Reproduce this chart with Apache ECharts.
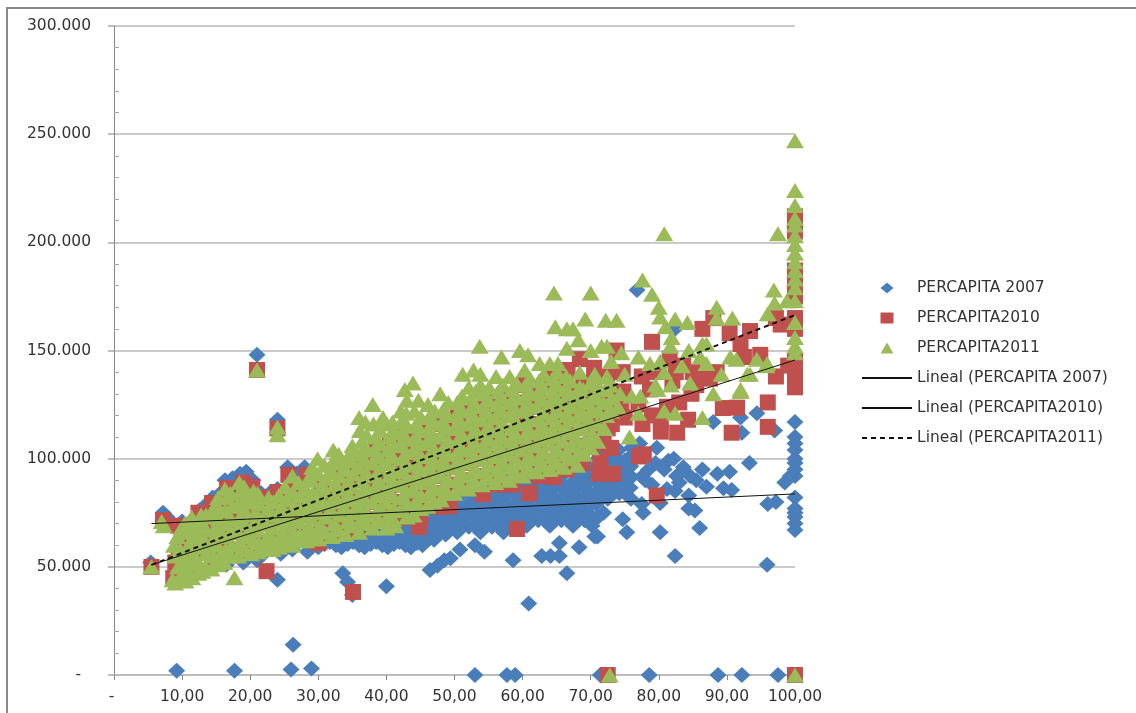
<!DOCTYPE html>
<html><head><meta charset="utf-8">
<script src="https://cdn.jsdelivr.net/npm/echarts@6/dist/echarts.min.js"></script>
<style>
html,body{margin:0;padding:0;background:#fff;overflow:hidden}
#c{width:1136px;height:713px;position:absolute;left:0;top:0;filter:blur(0.4px)}
#frame{position:absolute;left:6px;top:7px;width:1130px;height:706px;border-left:2px solid #8a8a8a;border-top:2px solid #8a8a8a;box-sizing:border-box;pointer-events:none}
</style></head><body>
<div id="c"></div><div id="frame"></div>
<script>
// y values in thousands of PERCAPITA, x in percent
const tickX = [10,20,30,40,50,60,70,80,90,100];
const percapita2007 = [
[5.4,52],[7.2,75],[7.8,73],[10,71],[9.4,53],[10.3,58],[12.5,76],[11.6,72],[14.5,82],[13.6,79],[16.3,90],[15.6,84],[18.5,93],[17.4,91],[19.4,94],[20.4,90],[21.6,84],[23,84.5],[24,86],[21,148],[24,118],[24,112],[25.5,96],[28,96],[26.8,93],[29.2,92],
[24,44],[26.3,14],[26,2.5],[29,3],[9.2,2],[17.7,2],[33.6,47],[34.3,43],[35,37],[40,41],[46.4,48.5],[47.5,50.5],[48.5,53],[50.8,58],[49.4,54],[53,60],[54.4,57],[58.6,53],[60.9,33],[62.8,55],[64.1,55],[65.4,55],[66.5,47],[68.3,59],[65.4,61],[70.6,64],[71,64],[75.3,66],[80.2,66],[82.4,55],[95.9,51],
[53,0],[57.7,0],[58.9,0],[71.4,0],[78.6,0],[88.7,0],[92.2,0],[97.5,0],[100,0],[76.8,178],[82.4,160],
[22,56],[24.5,56],[26.2,58],[28.4,57],[21,53],[19,52],[16.5,51],
[30,59],[30.2,64],[30,69],[31.7,61.5],[31.6,66.5],[33.4,59],[33.5,64],[33.3,69],[35.1,61.5],[35,66.5],[35.2,71.5],[36.8,59],[36.7,64],[36.9,69],[38.5,61.5],[38.4,66.5],[38.6,71.5],[40.2,59],[40.1,64],[40.3,69],[40.2,74],
[41.9,61.5],[41.8,66.5],[42,71.5],[43.6,59],[43.5,64],[43.7,69],[43.6,74],[45.3,60],[45.2,65],[45.4,70],[45.3,75],[47,62.5],[46.9,67.5],[47.1,72.5],[47,77.5],[48.7,65],[48.6,70],[48.8,75],[48.7,80],[48.8,85],
[50.4,66],[50.3,71],[50.5,76],[50.4,81],[50.3,86],[52.1,68.5],[52,73.5],[52.2,78.5],[52.1,83.5],[52,88],[53.8,66],[53.7,71],[53.9,76],[53.8,81],[53.7,86],[53.9,90],[55.5,68.5],[55.4,73.5],[55.6,78.5],[55.5,83.5],[55.4,88.5],
[57.2,66],[57.1,71],[57.3,76],[57.2,81],[57.1,86],[57.3,91],[58.9,68.5],[58.8,73.5],[59,78.5],[58.9,83.5],[58.8,88.5],[58.9,93],[60.6,69],[60.5,74],[60.7,79],[60.6,84],[60.5,89],[60.7,94],
[62.3,71.5],[62.2,76.5],[62.4,81.5],[62.3,86.5],[62.2,91.5],[62.4,96],[64,69],[63.9,74],[64.1,79],[64,84],[63.9,89],[64.1,94],[65.7,71.5],[65.6,76.5],[65.8,81.5],[65.7,86.5],[65.6,91.5],[65.8,96.5],
[67.4,69],[67.3,74],[67.5,79],[67.4,84],[67.3,89],[67.5,94],[67.4,99],[69.1,71.5],[69,76.5],[69.2,81.5],[69.1,86.5],[69,91.5],[69.2,96.5],[70.8,79],[70.7,84],[70.9,89],[70.8,94],[70.7,99],[70.9,103],
[72.5,81.5],[72.4,86.5],[72.6,91.5],[72.5,96.5],[72.4,101],[74.2,84],[74.1,89],[74.3,94],[74.2,99],[74.1,104],[75.9,81.5],[75.8,86.5],[76,91.5],[75.9,96.5],[75.8,101],[76,105],
[77.2,107],[79.7,105],[82.2,100],[81.4,99],[83.6,96],[86.4,95],[88.6,93],[90.4,94],[93.3,98],[78.5,95],[80.8,95],[82.6,92],[84.6,92],[85.5,90],[87,87],[89.5,86.3],[90.7,85.5],[81.2,86],[82.4,85],[84.4,83],[80.2,79.5],[77.5,79],[77.7,75],[84.4,77],[85.3,76],[86,68],[74.7,72],[71.9,75],[71.1,73],[70.2,69],[78,90],[79,88],[83,89],[79.5,98],[77.6,92],
[88,117],[92,119],[94.4,121],[97,113],[92.2,112],[98.5,89],[99.3,92],[96,79],[97.2,80],
[100,117],[100,110],[100,107],[100,104],[100,100],[100,98],[100,95],[100,92],[100,82],[100,77],[100,75],[100,73],[100,70],[100,67],
[30.9,60.5],[30.8,65],[32.6,60],[32.5,65],[32.4,70],[34.3,60.5],[34.2,65],[34.1,70],[36,60],[36,65],[35.9,70],[37.7,60.5],[37.6,65],[37.5,70],[39.4,60],[39.3,65],[39.2,70],[41.1,60.5],[41,65],[40.9,70],[42.8,60],[42.7,65],[42.6,70],[44.5,61],[44.4,66],[44.3,71],[46.2,63],[46.1,68],[46,73],[47.9,66],[47.8,71],[47.7,76],[49.6,68],[49.5,73],[49.4,78],
[51.3,69],[51.2,74],[51.1,79],[51,84],[53,69],[52.9,74],[52.8,79],[52.7,84],[54.7,69],[54.6,74],[54.5,79],[54.4,84],[56.4,69],[56.3,74],[56.2,79],[56.1,84],[58.1,69],[58,74],[57.9,79],[57.8,84],[59.8,71],[59.7,76],[59.6,81],[59.5,86],[61.5,72],[61.4,77],[61.3,82],[61.2,87],[63.2,72],[63.1,77],[63,82],[62.9,87],[64.9,72],[64.8,77],[64.7,82],[64.6,87],[66.6,72],[66.5,77],[66.4,82],[66.3,87],[68.3,72],[68.2,77],[68.1,82],[68,87],[68.2,92],[70,74],[69.9,79],[69.8,84],[69.7,89],[69.9,94],[71.7,82],[71.6,87],[71.5,92],[71.6,97],[73.4,84],[73.3,89],[73.2,94],[73.3,99],[75.1,84],[75,89],[74.9,94],[75,99]
];
const percapita2010 = [
[5.5,50],[7.2,71.6],[9.4,69],[10.2,57.7],[8.7,44.8],[10.7,46],[9,52],[12.4,75],[14.4,79.5],[16.6,86.5],[19,89],[20.3,87],[21,141],[24,114],[21.9,82],[24,84.6],[25.6,92.5],[28.3,92.5],[22.4,48],[35.1,38.4],[30,61],[44.8,68.4],[47.9,77.7],[45,73],[42,72.6],[33.6,65.6],[35.7,66.6],
[9.5,56],[10.5,62],[11.5,52],[12,48],[12.5,58],[12.8,66],[14.5,53],[14.2,61],[14.8,70],[16,57],[16.4,65],[16.2,74],[16.7,80],[18.2,58],[18.5,66],[18.1,74],[18.6,82],[20.4,60],[20.2,68],[20.6,76],[22.4,62],[22.2,70],[22.6,78],[24.5,63],[24.2,71],[24.6,78],
[26.3,64],[26.5,72],[26.2,80],[26.4,87],[28.4,66],[28.2,74],[28.6,82],[30.3,70],[30.5,78],[30.2,86],[32.5,70],[32.3,78],[32.6,86],[32.4,94],[34.5,72],[34.3,80],[34.6,88],[34.4,96],[36.5,74],[36.3,82],[36.6,90],[36.4,98],[38.5,72],[38.3,80],[38.6,88],[38.4,96],[38.5,104],
[40.5,74],[40.3,82],[40.6,90],[40.4,98],[40.5,106],[42.5,80],[42.3,88],[42.6,96],[42.4,104],[42.5,112],[44.5,80],[44.3,88],[44.6,96],[44.4,104],[44.5,112],[46.5,84],[46.3,92],[46.6,100],[46.4,108],[46.5,116],[48.5,84],[48.3,92],[48.6,100],[48.4,108],[48.5,116],
[49.3,78],[50.5,88],[50.3,96],[50.6,104],[50.4,112],[50.5,120],[52.5,90],[52.3,98],[52.6,106],[52.4,114],[52.5,122],[54.2,83.5],[54.5,92],[54.3,100],[54.6,108],[54.4,116],[54.5,124],[56.5,88],[56.3,96],[56.6,104],[56.4,112],[56.5,120],[56.3,128],
[58.5,88],[58.3,96],[58.6,104],[58.4,112],[58.5,120],[58.3,128],[59.2,67.5],[61,84],[60.5,94],[60.3,102],[60.6,110],[60.4,118],[60.5,126],[60.3,134],[62.5,92],[62.3,100],[62.6,108],[62.4,116],[62.5,124],[62.3,132],
[64.6,91.5],[64.5,99],[64.3,107],[64.6,115],[64.4,123],[64.5,131],[64.3,139],[66.5,95],[66.3,103],[66.6,111],[66.4,119],[66.5,127],[66.3,135],[66.6,141],[68.7,98],[68.3,106],[68.6,114],[68.4,122],[68.5,131],[68.4,146],[68.9,135],
[71.4,99],[71.2,93],[73.3,93],[70.5,110],[70.3,118],[70.6,126],[70.4,134],[70.5,142],[71.9,107],[72.5,114],[72.3,122],[72.6,130],[72.4,138],[73,105],[73.1,116],[73.8,150],[75,119],[74.8,131],[74.5,124],[74.7,140],[77,125],[77.1,101],[77.8,102],[77.6,116],
[79,120],[79,154],[78.7,132],[80.3,112.5],[80.3,117],[81.2,124],[82.7,112],[83,126],[84.3,118],[81.6,146],[83.6,143],[84.8,130],[82,136],[79.7,83],[86.4,160],[86.5,138],[88,165],[88.5,140],[87.5,137],[85.5,134],[85,140],[82.5,140],[79.5,140],[77.5,138],
[90.4,158],[93.4,159],[92,153],[92.5,147],[94.9,148],[97.2,138],[97.2,165],[97.9,162],[99,143],[96,126],[96,114.7],[89.4,123.4],[91.5,123.6],[90.7,112],
[100,212],[100,205],[100,187],[100,180],[100,175],[100,165],[100,160],[100,145],[100,142],[100,138],[100,133],[100,0],[72.5,0]
];
const percapita2011 = [
[5.5,50],[7,71],[7.3,69],[8.6,44],[9,42.5],[9.4,50],[9,55],[9.3,64],[8.8,60],[10.5,43.5],[10.8,48],[10.6,54],[11,60],[10.8,66],[10.4,70],[12.4,47],[12.2,53],[12.6,59],[12.3,65],[12.5,71],[12.8,74],[13,48],
[14.3,49],[14.6,55],[14.2,61],[14.7,67],[14.4,73],[14.6,77],[16.2,52],[16.4,58],[16.1,64],[16.5,70],[16.3,76],[16.6,82],[16.3,86],[17.7,45],[18.2,55],[18.4,61],[18,67],[18.5,73],[18.2,79],[18.6,85],[18.4,89],
[20.1,56],[20.5,62],[20.2,68],[20.6,74],[20.3,80],[20.5,85],[21,141],[22.3,58],[22.6,64],[22.2,70],[22.5,76],[22.7,82],[24,111],[24,114.5],[24.2,59],[24.6,65],[24.3,71],[24.5,77],[24.2,83],
[26.2,60],[26.4,66],[26.1,72],[26.5,78],[26.3,84],[26.2,92],[28.2,62],[28.5,68],[28.1,74],[28.4,80],[28.2,86],[28.6,91],
[30,63],[30.3,69],[29.9,75],[30.2,81],[30.4,87],[30,93],[29.9,100],[32,64],[32.3,70],[31.9,76],[32.2,82],[32.4,88],[32,94],[32.2,99],[32.2,104],[34,65],[34.3,71],[33.9,77],[34.2,83],[34.4,89],[34,95],[34.2,100],[35,106],
[36,66],[36.3,72],[35.9,78],[36.2,84],[36.4,90],[36,96],[36.2,102],[36.4,108],[36.1,113],[36,119],[38,68],[38.3,74],[37.9,80],[38.2,86],[38.4,92],[38,98],[38.2,104],[38.4,110],[38.1,116],[38,125],[39.5,119],
[40,68],[40.3,74],[39.9,80],[40.2,86],[40.4,92],[40,98],[40.2,104],[40.4,110],[40.1,116],[41.3,69],[42,76],[42.3,82],[41.9,88],[42.2,94],[42.4,100],[42,106],[42.2,112],[42.4,118],[42.1,122],[42.7,132],
[44,74],[44.3,80],[43.9,86],[44.2,92],[44.4,98],[44,104],[44.2,110],[44.4,116],[44.1,122],[44.7,127],[43.9,135],[46,78],[46.3,84],[45.9,90],[46.2,96],[46.4,102],[46,108],[46.2,114],[46.4,120],[46.1,125],
[48,81],[48.3,87],[47.9,93],[48.2,99],[48.4,105],[48,111],[48.2,117],[48.4,123],[47.9,130],[50,84],[50.3,90],[49.9,96],[50.2,102],[50.4,108],[50,114],[50.2,120],[50.4,126],[51.2,139],
[52,86],[52.3,92],[51.9,98],[52.2,104],[52.4,110],[52,116],[52.2,122],[52.4,128],[52.1,133],[52.8,141],[54,88],[54.3,94],[53.9,100],[54.2,106],[54.4,112],[54,118],[54.2,124],[54.4,130],[53.8,134],[53.8,139],[53.7,152],
[56,89],[56.3,95],[55.9,101],[56.2,107],[56.4,113],[56,119],[56.2,125],[56.4,131],[56.1,138],[56.9,147],[58,90],[58.3,96],[57.9,102],[58.2,108],[58.4,114],[58,120],[58.2,126],[58.4,132],[58.1,138],
[60,92],[60.3,98],[59.9,104],[60.2,110],[60.4,116],[60,122],[60.2,128],[60.4,134],[60.3,141],[59.6,150],[60.8,148],[62,94],[62.3,100],[61.9,106],[62.2,112],[62.4,118],[62,124],[62.2,130],[62.4,136],[62.5,144],
[64,95],[64.3,101],[63.9,107],[64.2,113],[64.4,119],[64,125],[64.2,131],[64.4,137],[64,144],[64.8,161],[64.6,176.6],[65.2,144],[66,96],[66.3,102],[65.9,108],[66.2,114],[66.4,120],[66,126],[66.2,132],[66.4,138],[66.5,151],[66.5,160],[67.4,160],
[68,97],[68.3,103],[67.9,109],[68.2,115],[68.4,121],[68,127],[68.4,133],[68.4,140],[68.2,155],[69.2,164.6],[70,105],[70.3,111],[69.9,117],[70.2,123],[70.4,129],[70,135],[70.6,139],[70,150],[70,176.6],
[71,108],[72,114],[72.3,120],[71.9,126],[72.2,132],[72.4,138],[73,145],[71.6,152],[72.4,152],[72.2,164],[73.8,164],[74,124],[74.3,130],[75,139],[74.5,149],[75.7,110],[76,129],[77,121],[77,147],[77.3,129],
[77.6,182.6],[79,176],[80,170],[80.2,165.5],[82.4,164.6],[84.2,163],[81,161],[78.7,144],[80.2,145],[79.8,132],[80.8,140],[80.8,122],[79.5,134],[81.8,134],[81.9,156],[81.7,152],[82.4,121],[83.4,143],[84.4,150],[84.6,135],[86.1,147],[86.4,153],[87,153],[87,144],[86.4,119],[88,130],[88.5,170],[88.5,165],[89.2,139],[90.8,165],[90.5,147],[91.4,146],[92,132],[92,131],[93,139],[94.4,146],[95.8,143],[96,167],[96.9,178],[97,172],[98.8,173],[97.5,204],[80.8,204],[93.4,139],[95.9,144],
[100,247],[100,224],[100,217],[100,211],[100,208],[100,203],[100,199],[100,195],[100,191],[100,187],[100,183],[100,179],[100,173],[100,163],[100,156],[100,152],[100,149],[100,0],[72.8,0],
[9.8,46],[9.9,52],[9.7,58],[9.9,68],[11.5,45],[11.6,51],[11.4,57],[11.5,63],[11.6,69],[11.4,73],[13.4,50],[13.5,56],[13.3,62],[13.4,68],[13.5,74],[15.3,51],[15.4,54],[15.2,60],[15.3,66],[15.4,72],[15.2,78],[15.3,82],
[17.2,55],[17.3,60],[17.1,66],[17.2,72],[17.3,78],[17.1,84],[19.2,58],[19.3,64],[19.1,70],[19.2,76],[19.3,82],[19.1,87],[21.2,57],[21.3,61],[21.1,67],[21.2,73],[21.3,79],[21.1,84],[23.3,58],[23.4,62],[23.2,68],[23.3,74],[23.4,80],
[25.2,61],[25.3,63],[25.1,69],[25.2,75],[25.3,81],[25.1,87],[27.2,62],[27.3,65],[27.1,71],[27.2,77],[27.3,83],[27.1,89],[29.1,63],[29.2,66],[29,72],[29.1,78],[29.2,84],[29,90],[29.1,96],
[31,66],[31.1,73],[30.9,79],[31,85],[31.1,91],[30.9,97],[33,67],[33.1,74],[32.9,80],[33,86],[33.1,92],[32.9,98],[33,102],[35,69],[35.1,75],[34.9,81],[35,87],[35.1,93],[34.9,99],[35,103],
[37,70],[37.1,75],[36.9,81],[37,87],[37.1,93],[36.9,99],[37,105],[37.1,111],[36.9,117],[39,71],[39.1,77],[38.9,83],[39,89],[39.1,95],[38.9,101],[39,107],[39.1,113],[41,72],[41.1,77],[40.9,83],[41,89],[41.1,95],[40.9,101],[41,107],[41.1,113],[40.9,117],
[43,73],[43.1,79],[42.9,85],[43,91],[43.1,97],[42.9,103],[43,109],[43.1,115],[42.9,121],[43,127],[45,77],[45.1,83],[44.9,89],[45,95],[45.1,101],[44.9,107],[45,113],[45.1,119],[47,80],[47.1,86],[46.9,92],[47,98],[47.1,104],[46.9,110],[47,116],[47.1,122],
[49,84],[49.1,90],[48.9,96],[49,102],[49.1,108],[48.9,114],[49,120],[49.1,126],[51,87],[51.1,93],[50.9,99],[51,105],[51.1,111],[50.9,117],[51,123],[51.1,129],[53,89],[53.1,95],[52.9,101],[53,107],[53.1,113],[52.9,119],[53,125],[53.1,131],
[55,91],[55.1,97],[54.9,103],[55,109],[55.1,115],[54.9,121],[55,127],[55.1,133],[57,92],[57.1,98],[56.9,104],[57,110],[57.1,116],[56.9,122],[57,128],[57.1,134],[59,93],[59.1,99],[58.9,105],[59,111],[59.1,117],[58.9,123],[59,129],[59.1,135],
[61,95],[61.1,101],[60.9,107],[61,113],[61.1,119],[60.9,125],[61,131],[61.1,137],[63,97],[63.1,103],[62.9,109],[63,115],[63.1,121],[62.9,127],[63,133],[63.1,139],[65,98],[65.1,104],[64.9,110],[65,116],[65.1,122],[64.9,128],[65,134],[65.1,140],
[67,100],[67.1,106],[66.9,112],[67,118],[67.1,124],[66.9,130],[67,136],[69,102],[69.1,108],[68.9,114],[69,120],[69.1,126],[68.9,132],[71,116],[71.1,122],[70.9,128],[71,134],[73,122],[73.1,128],[72.9,134]
];
const trend2007 = [[5.5,70],[100,83.7]];
const trend2010 = [[5.5,50.9],[100,145.6]];
const trend2011 = [[5.5,50.9],[100,166.4]];

const FONT = '"DejaVu Sans"';
const chart = echarts.init(document.getElementById('c'), null, {renderer:'canvas'});
const scatter = (name, data, symbol, size, color) => ({name, type:'scatter', data, symbol, symbolSize:size, clip:false,
  itemStyle:{color, opacity:1}, emphasis:{disabled:true}});
const trend = (name, data, type, width) => ({name, type:'line', data, showSymbol:false, symbol:'none', clip:false,
  lineStyle:{color:'#111', width, type}, itemStyle:{color:'#111'}, emphasis:{disabled:true}});
chart.setOption({
  animation:false,
  backgroundColor:'#fff',
  textStyle:{fontFamily:FONT},
  grid:{left:114, top:26, width:681, height:649, containLabel:false},
  legend:{show:true, left:856, top:275, orient:'vertical', itemWidth:50, itemHeight:11, itemGap:14, selectedMode:false,
    textStyle:{fontFamily:FONT, fontSize:15.5, color:'#333'},
    data:[
      {name:'PERCAPITA 2007', icon:'path://M6.5 0L13 5.5L6.5 11L0 5.5Z'},
      {name:'PERCAPITA2010', icon:'path://M0 0L13 0L13 11L0 11Z'},
      {name:'PERCAPITA2011', icon:'path://M6.5 0L13 11L0 11Z'},
      {name:'Lineal (PERCAPITA 2007)', itemStyle:{opacity:0}},
      {name:'Lineal (PERCAPITA2010)', itemStyle:{opacity:0}},
      {name:'Lineal (PERCAPITA2011)', itemStyle:{opacity:0}}
    ]},
  xAxis:{type:'value', min:0, max:100, interval:10,
    axisLine:{onZero:false, lineStyle:{color:'#b8b8b8', width:1.5}},
    axisTick:{show:true, length:5, lineStyle:{color:'#868686'}},
    splitLine:{show:false},
    axisLabel:{margin:14, fontFamily:FONT, fontSize:15.5, color:'#333', showMinLabel:true, showMaxLabel:true,
      formatter:v=> v===0 ? '- ' : v+',00'}},
  yAxis:{type:'value', min:0, max:300, interval:50,
    axisLine:{show:true, onZero:false, lineStyle:{color:'#868686', width:1}},
    axisTick:{show:true, length:6, lineStyle:{color:'#a8a8a8', width:1.5}},
    minorTick:{show:true, splitNumber:5, length:-5, lineStyle:{color:'#a8a8a8', width:1}},
    splitLine:{show:true, lineStyle:{color:'#b8b8b8', width:1.5}},
    axisLabel:{margin:23, fontFamily:FONT, fontSize:15.5, color:'#333',
      formatter:v=> v===0 ? '-  ' : v+'.000'}},
  series:[
    scatter('PERCAPITA 2007', percapita2007, 'diamond', [17,16], '#4a7ebb'),
    scatter('PERCAPITA2010', percapita2010, 'rect', [16,16], '#c0504d'),
    scatter('PERCAPITA2011', percapita2011, 'triangle', [18,15], '#9bbb59'),
    trend('Lineal (PERCAPITA 2007)', trend2007, 'solid', 1),
    trend('Lineal (PERCAPITA2010)', trend2010, 'solid', 1),
    trend('Lineal (PERCAPITA2011)', trend2011, [5,4], 2)
  ]
});
</script></body></html>
